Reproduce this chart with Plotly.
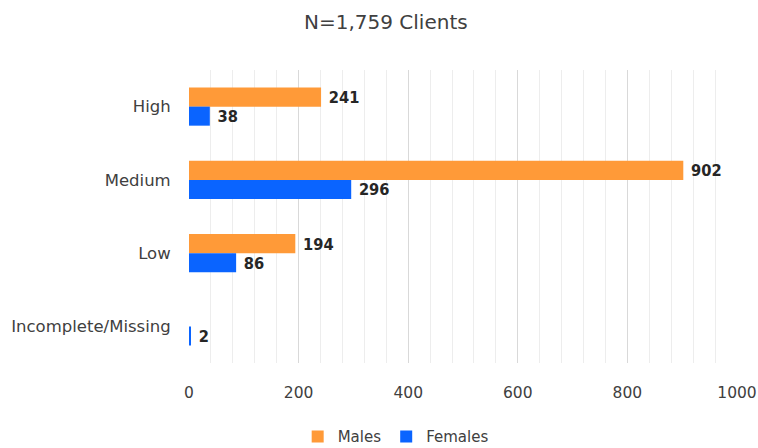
import plotly.graph_objects as go

categories = ["High", "Medium", "Low", "Incomplete/Missing"]
males = [241, 902, 194, 0]
females = [38, 296, 86, 2]
male_labels = ["241", "902", "194", ""]
female_labels = ["38", "296", "86", "2"]
x_ticks = [0, 200, 400, 600, 800, 1000]

label_font = dict(family="Liberation Sans Narrow, Arial Narrow, DejaVu Sans Condensed, sans-serif",
                  size=18, color="#262626")
axis_font = dict(family="DejaVu Sans, Verdana, sans-serif", size=15.5, color="#404040")
ycat_font = dict(family="DejaVu Sans, Verdana, sans-serif", size=16.5, color="#404040")

fig = go.Figure()
fig.add_trace(go.Bar(
    y=categories, x=males, name="Males", orientation="h",
    marker=dict(color="#FF9A38", line=dict(width=0)),
    text=male_labels, textposition="outside", textfont=label_font,
    texttemplate="\u00a0<b>%{text}</b>", cliponaxis=False,
))
fig.add_trace(go.Bar(
    y=categories, x=females, name="Females", orientation="h",
    marker=dict(color="#0A64FF", line=dict(width=0)),
    text=female_labels, textposition="outside", textfont=label_font,
    texttemplate="\u00a0<b>%{text}</b>", cliponaxis=False,
))

fig.update_layout(
    width=758, height=448,
    paper_bgcolor="white", plot_bgcolor="white",
    margin=dict(l=189, r=21, t=70, b=85, autoexpand=False),
    barmode="group", bargap=0.48, bargroupgap=0,
    font=dict(family="DejaVu Sans, Verdana, sans-serif", size=14, color="#404040"),
    title=dict(text="N=1,759 Clients", x=0.509, xref="container", xanchor="center",
               y=0.95, yref="container", yanchor="middle",
               font=dict(size=20, color="#404040", family="DejaVu Sans, Verdana, sans-serif")),
    legend=dict(orientation="h", x=0.522, xref="container", xanchor="center",
                y=0.025, yref="container", yanchor="middle", itemwidth=30,
                font=dict(size=15, color="#404040"), traceorder="normal"),
    showlegend=True,
)
fig.update_xaxes(
    range=[0, 1000], tickvals=x_ticks, ticktext=[str(v) for v in x_ticks],
    showgrid=True, gridcolor="#D9D9D9", gridwidth=1,
    minor=dict(dtick=40, showgrid=True, gridcolor="#EDEDED", gridwidth=1),
    zeroline=False, showline=False, automargin=False,
    ticks="outside", ticklen=15, tickcolor="rgba(0,0,0,0)",
    tickfont=axis_font,
)
fig.update_yaxes(
    categoryorder="array", categoryarray=categories, autorange="reversed",
    showgrid=False, zeroline=False, showline=False, automargin=False,
    ticks="outside", ticklen=14, tickcolor="rgba(0,0,0,0)",
    tickfont=ycat_font,
)

fig.write_html(
    "out.html",
    config={"displayModeBar": False},
    post_script="document.body.style.margin='0';document.body.style.overflow='hidden';",
)
